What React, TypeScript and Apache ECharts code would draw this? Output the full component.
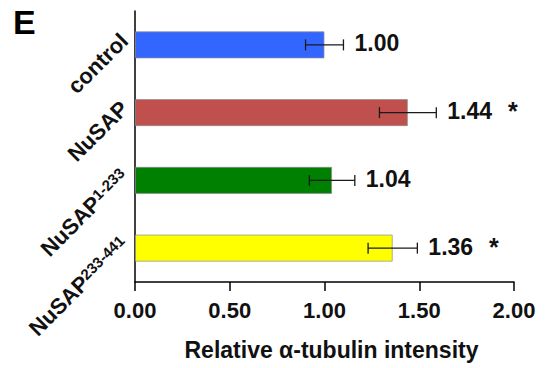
import React, { useEffect, useRef } from "react";
import * as echarts from "echarts";

const categories = ["control", "NuSAP", "NuSAP|1-233", "NuSAP|233-441"];
const values = [1.0, 1.44, 1.04, 1.36];
const errors = [0.1, 0.15, 0.12, 0.13];
const significant = [0, 1, 0, 1];
const barColors = ["#3366FF", "#C0504D", "#008000", "#FFFF00"];
const xTicks = [0, 0.5, 1.0, 1.5, 2.0];
const xTitle = "Relative \u03b1-tubulin intensity";
const panelLetter = "E";

const FONT = "Liberation Sans, Arial, Helvetica, sans-serif";

export default function App() {
  const ref = useRef<HTMLDivElement>(null);
  useEffect(() => {
    if (!ref.current) return;
    const chart = echarts.init(ref.current, undefined, { renderer: "svg" });
    const errData = values.map((v, i) => [v, i, errors[i], significant[i]]);
    chart.setOption({
      animation: false,
      backgroundColor: "#ffffff",
      textStyle: { fontFamily: FONT },
      grid: { left: 135, right: 32, top: 11, bottom: 86, containLabel: false },
      xAxis: {
        type: "value",
        min: xTicks[0],
        max: xTicks[xTicks.length - 1],
        interval: 0.5,
        name: xTitle,
        nameLocation: "middle",
        nameGap: 56,
        nameTextStyle: {
          fontFamily: FONT,
          fontWeight: "bold",
          fontSize: 23,
          color: "#111",
          padding: [0, 0, 0, 14],
        },
        axisLine: { show: true, lineStyle: { color: "#000", width: 1.5 } },
        axisTick: { show: true, length: 9, lineStyle: { color: "#000", width: 1.5 } },
        splitLine: { show: false },
        axisLabel: {
          margin: 17,
          fontFamily: FONT,
          fontWeight: "bold",
          fontSize: 22,
          color: "#111",
          formatter: (v: number) => v.toFixed(2),
        },
      },
      yAxis: {
        type: "category",
        data: categories,
        inverse: true,
        axisLine: { show: true, lineStyle: { color: "#000", width: 1.5 } },
        axisTick: { show: false },
        axisLabel: {
          rotate: 45,
          margin: 3,
          verticalAlign: "bottom",
          fontFamily: FONT,
          fontWeight: "bold",
          fontSize: 22,
          color: "#111",
          formatter: (v: string) => {
            const parts = v.split("|");
            if (parts.length > 1) return `{m|${parts[0]}}{s|${parts[1]}}`;
            return `{m|${parts[0]}}`;
          },
          rich: {
            m: { fontFamily: FONT, fontWeight: "bold", fontSize: 22, color: "#111" },
            s: {
              fontFamily: FONT,
              fontWeight: "bold",
              fontSize: 15,
              color: "#111",
              verticalAlign: "top",
            },
          },
        },
      },
      series: [
        {
          type: "bar",
          data: values.map((v, i) => ({
            value: v,
            itemStyle: { color: barColors[i] },
          })),
          barCategoryGap: "60%",
          itemStyle: { borderColor: "rgba(140,140,140,0.7)", borderWidth: 1 },
        },
        {
          type: "custom",
          data: errData,
          encode: { x: 0, y: 1 },
          z: 5,
          renderItem: (params: any, api: any) => {
            const v = api.value(0);
            const cat = api.value(1);
            const e = api.value(2);
            const sig = api.value(3);
            const lo = api.coord([v - e, cat]);
            const hi = api.coord([v + e, cat]);
            const cy = lo[1];
            const cap = 5.5;
            const stroke = { stroke: "#1a1a1a", lineWidth: 1.3 };
            const label = v.toFixed(2);
            const text = sig ? `{v|${label}}{s|*}` : `{v|${label}}`;
            return {
              type: "group",
              children: [
                { type: "line", shape: { x1: lo[0], y1: cy, x2: hi[0], y2: cy }, style: stroke },
                { type: "line", shape: { x1: lo[0], y1: cy - cap, x2: lo[0], y2: cy + cap }, style: stroke },
                { type: "line", shape: { x1: hi[0], y1: cy - cap, x2: hi[0], y2: cy + cap }, style: stroke },
                {
                  type: "text",
                  x: hi[0] + 11,
                  y: cy - 1.5,
                  style: {
                    text,
                    textAlign: "left",
                    textVerticalAlign: "middle",
                    verticalAlign: "middle",
                    rich: {
                      v: { fontFamily: FONT, fontWeight: "bold", fontSize: 23, fill: "#111" },
                      s: {
                        fontFamily: FONT,
                        fontWeight: "bold",
                        fontSize: 25,
                        fill: "#111",
                        padding: [0, 0, 0, 16],
                      },
                    },
                  },
                },
              ],
            };
          },
        },
      ],
      graphic: [
        {
          type: "text",
          left: 13,
          top: 5,
          style: {
            text: panelLetter,
            font: `bold 34px ${FONT}`,
            fill: "#000",
          },
        },
      ],
    });
    return () => chart.dispose();
  }, []);
  return (
    <div
      ref={ref}
      style={{ position: "fixed", left: 0, top: 0, width: 546, height: 368 }}
    />
  );
}
